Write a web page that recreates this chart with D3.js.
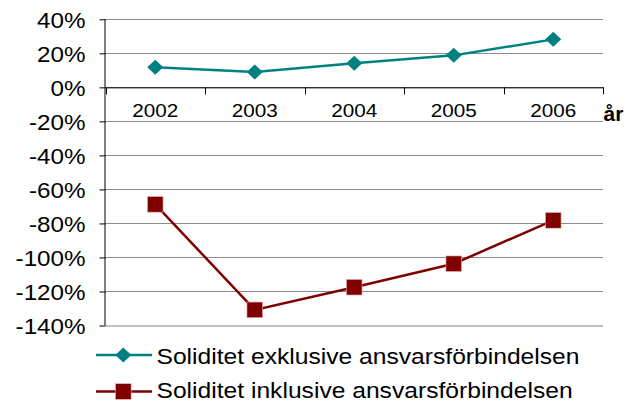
<!DOCTYPE html>
<html><head><meta charset="utf-8">
<script src="https://cdn.jsdelivr.net/npm/d3@7"></script>
<style>body{margin:0;background:#fff}svg{display:block}text{font-family:"Liberation Sans",Arial,sans-serif}</style>
</head><body><svg id="c" width="636" height="403"></svg>
<script>
const years = ["2002","2003","2004","2005","2006"];
const exklusive = [11.8, 9.0, 14.1, 18.8, 28.2];
const inklusive = [-68.8, -130.8, -117.5, -103.7, -78.2];
const yTicks = [40,20,0,-20,-40,-60,-80,-100,-120,-140];
const seriesNames = ["Soliditet exklusive ansvarsförbindelsen","Soliditet inklusive ansvarsförbindelsen"];

const svg = d3.select("#c");
const L=105.5, R=603, T=19.3, B=325.5;
const x = d3.scaleBand().domain(years).range([L,R]);
const y = d3.scaleLinear().domain([-140,40]).range([B,T]);
const FF = "Liberation Sans, Arial, sans-serif";

// gridlines
svg.append("g").selectAll("line").data(yTicks.filter(d=>d>-140)).join("line")
  .attr("x1",L).attr("x2",R).attr("y1",d=>Math.round(y(d))+0.5).attr("y2",d=>Math.round(y(d))+0.5)
  .attr("stroke","#8c8c8c").attr("stroke-width",1);
svg.append("line").attr("x1",L).attr("x2",R).attr("y1",y(-140)+0.5).attr("y2",y(-140)+0.5)
  .attr("stroke","#c0c0c0").attr("stroke-width",2);

// y axis
const yAxis = d3.axisLeft(y).tickValues(yTicks).tickSize(6).tickPadding(8).tickFormat(d=>String(d)+"%");
const ga = svg.append("g").attr("transform",`translate(${L},0)`).call(yAxis);
ga.select(".domain").attr("stroke","#000").attr("d",`M-0.5,${T}V${B}`);
ga.selectAll(".tick line").attr("stroke","#000");
ga.selectAll(".tick text").attr("font-size",22).attr("fill","#000").attr("font-family",FF)
  .attr("x",-18.2).attr("dy","0.35em").attr("transform","scale(1.1,1)");

// x axis at 0
const xAxis = d3.axisBottom(x).tickSize(0).tickPadding(17);
const gx = svg.append("g").attr("transform",`translate(0,${y(0)})`).call(xAxis);
gx.select(".domain").attr("stroke","#000");
gx.selectAll(".tick text").attr("font-size",18).attr("fill","#000").attr("font-family",FF)
  .attr("transform","scale(1.15,1)").attr("dy","0.71em");
const bounds = years.map(d=>x(d)+x.bandwidth()).concat([L]);
svg.append("g").selectAll("line").data(bounds).join("line")
  .attr("x1",d=>Math.round(d)+0.5).attr("x2",d=>Math.round(d)+0.5).attr("y1",y(0)).attr("y2",y(0)+7)
  .attr("stroke","#000");
svg.append("text").attr("transform","translate(603.5,121) scale(1.05,1)").attr("font-size",20).attr("font-weight","bold").text("år");

const cx = d=>x(d)+x.bandwidth()/2;
const line = d3.line().x((d,i)=>cx(years[i])).y(d=>y(d));
const teal="#008080", red="#800000";
svg.append("path").datum(exklusive).attr("d",line).attr("fill","none").attr("stroke",teal).attr("stroke-width",2.5);
svg.append("path").datum(inklusive).attr("d",line).attr("fill","none").attr("stroke",red).attr("stroke-width",2.5);
const diamond = (px,py)=>`M${px},${py-7.5}L${px+8},${py}L${px},${py+7.5}L${px-8},${py}Z`;
svg.append("g").selectAll("path").data(exklusive).join("path")
  .attr("d",(d,i)=>diamond(cx(years[i]),y(d))).attr("fill",teal);
svg.append("g").selectAll("rect").data(inklusive).join("rect")
  .attr("x",(d,i)=>cx(years[i])-7.8).attr("y",d=>y(d)-7.8).attr("width",15.6).attr("height",15.6)
  .attr("fill",red).attr("stroke","#e8b0b0").attr("stroke-width",0.6);

// legend
const lg = svg.append("g");
const ly=[355,391.5];
lg.append("line").attr("x1",96).attr("x2",152).attr("y1",ly[0]).attr("y2",ly[0]).attr("stroke",teal).attr("stroke-width",2.5);
lg.append("path").attr("d",diamond(123.3,ly[0])).attr("fill",teal);
lg.append("line").attr("x1",96).attr("x2",152).attr("y1",ly[1]).attr("y2",ly[1]).attr("stroke",red).attr("stroke-width",2.5);
lg.append("rect").attr("x",115.5).attr("y",ly[1]-7.8).attr("width",15.6).attr("height",15.6).attr("fill",red).attr("stroke","#e8b0b0").attr("stroke-width",0.6);
const lb=[363.5,398];
lg.selectAll("text").data(seriesNames).join("text")
  .attr("transform",(d,i)=>`translate(156.5,${lb[i]}) scale(1.12,1)`).attr("font-size",22).text(d=>d);
</script></body></html>
